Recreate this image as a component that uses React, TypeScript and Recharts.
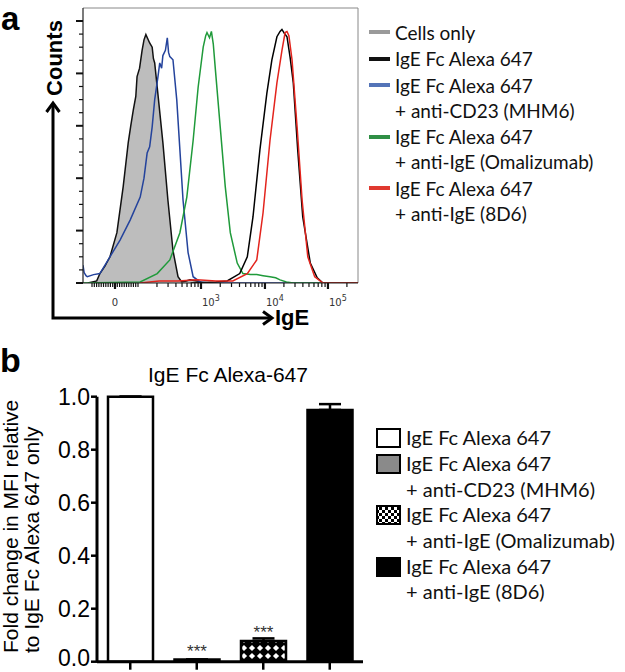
import React from 'react';
import {
  ComposedChart,
  Area,
  Line,
  XAxis,
  YAxis,
  ReferenceLine,
  BarChart,
  Bar,
  Cell,
  ErrorBar,
  LabelList,
} from 'recharts';

const FONT = '"Liberation Sans", Arial, Helvetica, sans-serif';
const LEGEND_FONT = 'Lato, "Open Sans", sans-serif';

// ---- panel a: histograms. x = position on the biexponential IgE axis, y = counts
const cellsOnly = [
  [-0.43, 0], [-0.29, 2], [-0.24, 9], [-0.16, 16], [-0.08, 25], [0.03, 48], [0.13, 92],
  [0.21, 134], [0.25, 150], [0.29, 165], [0.33, 178], [0.35, 197], [0.39, 205], [0.43, 222],
  [0.46, 232], [0.49, 237], [0.52, 233], [0.55, 229], [0.59, 225], [0.61, 214], [0.63, 210],
  [0.68, 181], [0.76, 134], [0.84, 79], [0.92, 31], [1.0, 6], [1.06, 1], [1.13, 2],
  [1.19, 3], [1.3, 2], [1.4, 0],
];
const igeFc = [
  [1.2, 0], [1.6, 1], [1.78, 2], [1.98, 9], [2.1, 25], [2.19, 63], [2.3, 127], [2.41, 181],
  [2.49, 213], [2.57, 235], [2.62, 240], [2.65, 242], [2.69, 238], [2.73, 235], [2.78, 215],
  [2.83, 191], [2.9, 127], [2.98, 63], [3.1, 19], [3.21, 5], [3.3, 0], [3.857, 0],
];
const igeFcMhm6 = [
  [-0.508, 17], [-0.49, 10], [-0.46, 7], [-0.44, 6], [-0.34, 8], [-0.24, 9], [-0.08, 25],
  [0.08, 41], [0.24, 60], [0.4, 82], [0.46, 100], [0.51, 124], [0.55, 130], [0.59, 149],
  [0.63, 175], [0.68, 196], [0.71, 210], [0.74, 205], [0.76, 217], [0.8, 222], [0.83, 234],
  [0.85, 220], [0.87, 216], [0.92, 213], [0.98, 175], [1.03, 127], [1.08, 79], [1.16, 29],
  [1.24, 6], [1.35, 1], [1.5, 0], [3.857, 0],
];
const igeFcOmalizumab = [
  [-0.508, 0], [0.4, 1], [0.67, 9], [0.87, 22], [1.03, 48], [1.14, 82], [1.24, 136],
  [1.32, 187], [1.4, 225], [1.44, 236], [1.46, 239], [1.5, 234], [1.53, 240], [1.56, 228],
  [1.59, 206], [1.67, 149], [1.75, 92], [1.83, 48], [1.94, 19], [2.03, 9], [2.15, 8],
  [2.25, 8], [2.35, 7], [2.46, 6], [2.55, 5], [2.62, 3], [2.72, 1], [2.83, 0], [3.857, 0],
];
const igeFc8d6 = [
  [0.4, 0], [0.7, 2], [1.0, 2], [1.3, 3], [1.6, 2], [1.87, 2], [2.1, 9], [2.25, 22],
  [2.35, 67], [2.46, 136], [2.57, 191], [2.65, 222], [2.7, 239], [2.73, 240], [2.76, 236],
  [2.81, 213], [2.89, 149], [2.97, 79], [3.06, 25], [3.17, 6], [3.3, 0], [3.857, 0],
];

const X_MIN = -0.508;
const X_MAX = 3.857;
const Y_MAX = 262.4;

// decade labels on the IgE axis
const decades = [
  { pos: 0, exp: 0 },
  { pos: 1.365, exp: 3 },
  { pos: 2.38, exp: 4 },
  { pos: 3.38, exp: 5 },
];

const histLegend = [
  { color: '#9a9a9a', lines: ['Cells only'] },
  { color: '#111111', lines: ['IgE Fc Alexa 647'] },
  { color: '#5474b8', lines: ['IgE Fc Alexa 647', '+ anti-CD23 (MHM6)'] },
  { color: '#2f8f45', lines: ['IgE Fc Alexa 647', '+ anti-IgE (Omalizumab)'] },
  { color: '#e0392f', lines: ['IgE Fc Alexa 647', '+ anti-IgE (8D6)'] },
];

// ---- panel b: bars
const barNames = [
  'IgE Fc Alexa 647',
  'IgE Fc Alexa 647 + anti-CD23 (MHM6)',
  'IgE Fc Alexa 647 + anti-IgE (Omalizumab)',
  'IgE Fc Alexa 647 + anti-IgE (8D6)',
];
const barValues = [1.0, 0.008, 0.078, 0.95];
const barErrors = [0, 0, 0.01, 0.022];
const barSig = ['', '***', '***', ''];
const barFills = ['#ffffff', '#8a8a8a', 'url(#diamonds)', '#000000'];
const barLegendLines = [
  ['IgE Fc Alexa 647'],
  ['IgE Fc Alexa 647', '+ anti-CD23 (MHM6)'],
  ['IgE Fc Alexa 647', '+ anti-IgE (Omalizumab)'],
  ['IgE Fc Alexa 647', '+ anti-IgE (8D6)'],
];

const toPts = (a: number[][]) => a.map(([x, y]) => ({ x, y }));

// tick positions for the axis marks
const majorX = decades.map((d) => d.pos);
const minorX: number[] = [];
for (let k = 1; k <= 9; k++) {
  minorX.push(k * 0.0365, -k * 0.0365, 0.365 + Math.log10(k));
  if (k > 1) {
    minorX.push(1.365 + Math.log10(k) * 1.015, 2.38 + Math.log10(k));
  }
}
minorX.push(-0.365, 3.38 + Math.log10(2));
const xTicks = [...majorX, ...minorX.filter((v) => !majorX.some((m) => Math.abs(m - v) < 1e-3))].sort(
  (a, b) => a - b
);
const yTicks = Array.from({ length: 21 }, (_, i) => i * 12.5);

const XTick = (props: any) => {
  const { x, y, payload } = props;
  const v = payload.value as number;
  const dec = decades.find((d) => Math.abs(d.pos - v) < 1e-6);
  return (
    <g>
      <line x1={x} x2={x} y1={y} y2={y + (dec ? 6 : 4)} stroke="#111" strokeWidth={dec ? 2.2 : 1.2} />
      {dec &&
        (dec.exp === 0 ? (
          <text x={x} y={y + 23} textAnchor="middle" fontSize={10} fill="#333" fontFamily="DejaVu Sans">
            0
          </text>
        ) : (
          <text x={x + 1} y={y + 23} textAnchor="start" fontSize={10} fill="#333" fontFamily="DejaVu Sans">
            10
            <tspan dy={-5} fontSize={8}>
              {dec.exp}
            </tspan>
          </text>
        ))}
    </g>
  );
};

const YTick = (props: any) => {
  const { x, y, payload } = props;
  const major = payload.value % 50 === 0;
  return <line x1={x} x2={x - (major ? 7 : 4)} y1={y} y2={y} stroke="#111" strokeWidth={major ? 2 : 1.2} />;
};

// fold-change labels; the bottom one is nudged up so it stays inside the page
const FoldTick = (props: any) => {
  const { x, y, payload } = props;
  const v = payload.value as number;
  return (
    <text x={x} y={y + (v === 0 ? 4.5 : 8)} textAnchor="end" fontSize={23} fill="#000" fontFamily={FONT}>
      {v.toFixed(1)}
    </text>
  );
};

const Swatch = ({ fill }: { fill: string }) => (
  <svg width={26} height={22} style={{ position: 'absolute', left: 0, top: 2 }}>
    <defs>
      <pattern id="checks" width={6} height={6} patternUnits="userSpaceOnUse">
        <rect width={6} height={6} fill="#fff" />
        <rect width={3} height={3} fill="#000" />
        <rect x={3} y={3} width={3} height={3} fill="#000" />
      </pattern>
    </defs>
    <rect x={1} y={2} width={23} height={18} fill={fill} stroke="#000" strokeWidth={2} />
  </svg>
);

export default function App() {
  const barData = barNames.map((name, i) => ({
    name,
    value: barValues[i],
    err: [0, barErrors[i]],
    sig: barSig[i],
  }));
  const legendFills = ['#ffffff', '#8a8a8a', 'url(#checks)', '#000000'];

  return (
    <div style={{ position: 'absolute', left: 0, top: 0, width: 625, height: 672, background: '#fff', fontFamily: FONT }}>
      <div style={{ position: 'absolute', left: 0, top: 0 }}>
        <ComposedChart
          width={625}
          height={340}
          data={toPts(cellsOnly)}
          margin={{ top: 8, right: 267, bottom: 27, left: 73 }}
        >
          <XAxis
            dataKey="x"
            type="number"
            domain={[X_MIN, X_MAX]}
            allowDataOverflow
            ticks={xTicks}
            interval={0}
            tick={<XTick />}
            tickLine={false}
            tickSize={0}
            tickMargin={0}
            height={30}
            axisLine={{ stroke: '#222', strokeWidth: 1.2 }}
          />
          <YAxis
            type="number"
            domain={[0, Y_MAX]}
            allowDataOverflow
            ticks={yTicks}
            interval={0}
            tick={<YTick />}
            tickLine={false}
            tickSize={0}
            tickMargin={0}
            width={10}
            axisLine={{ stroke: '#222', strokeWidth: 1.2 }}
          />
          <ReferenceLine y={Y_MAX} stroke="#888" strokeWidth={1} />
          <ReferenceLine x={X_MAX} stroke="#888" strokeWidth={1} />
          <Area
            dataKey="y"
            type="linear"
            fill="#bdbdbd"
            fillOpacity={1}
            stroke="#111"
            strokeWidth={1.5}
            isAnimationActive={false}
          />
          <Line data={toPts(igeFcMhm6)} dataKey="y" type="linear" stroke="#24439c" strokeWidth={1.5} dot={false} isAnimationActive={false} />
          <Line data={toPts(igeFcOmalizumab)} dataKey="y" type="linear" stroke="#1f9a3a" strokeWidth={1.5} dot={false} isAnimationActive={false} />
          <Line data={toPts(igeFc)} dataKey="y" type="linear" stroke="#000" strokeWidth={1.5} dot={false} isAnimationActive={false} />
          <Line data={toPts(igeFc8d6)} dataKey="y" type="linear" stroke="#e3241d" strokeWidth={1.5} dot={false} isAnimationActive={false} />
        </ComposedChart>
      </div>

      <div style={{ position: 'absolute', left: 0, top: 340 }}>
        <BarChart width={625} height={332} data={barData} margin={{ top: 56.7, right: 262, bottom: 0, left: 40 }}>
          <defs>
            <pattern id="diamonds" width={8} height={8} patternUnits="userSpaceOnUse">
              <rect width={8} height={8} fill="#000" />
              <polygon points="4,0.9 7.1,4 4,7.1 0.9,4" fill="#fff" />
            </pattern>
          </defs>
          <XAxis
            dataKey="name"
            tickFormatter={() => ''}
            tickSize={8}
            height={10.3}
            interval={0}
            axisLine={{ stroke: '#000', strokeWidth: 3 }}
            tickLine={{ stroke: '#000', strokeWidth: 2.5 }}
          />
          <YAxis
            type="number"
            domain={[0, 1]}
            ticks={[0, 0.2, 0.4, 0.6, 0.8, 1]}
            interval={0}
            width={57}
            tickSize={6}
            tickMargin={1}
            axisLine={{ stroke: '#000', strokeWidth: 3 }}
            tickLine={{ stroke: '#000', strokeWidth: 2.5 }}
            tick={<FoldTick />}
          />
          <Bar dataKey="value" barSize={45} stroke="#000" strokeWidth={2.5} isAnimationActive={false}>
            {barData.map((d, i) => (
              <Cell key={d.name} fill={barFills[i]} />
            ))}
            <ErrorBar dataKey="err" width={11} stroke="#000" strokeWidth={2.5} direction="y" />
            <LabelList dataKey="sig" position="top" offset={3} fill="#333" fontSize={17} fontFamily={FONT} />
          </Bar>
        </BarChart>
      </div>

      {/* legend a */}
      <div style={{ position: 'absolute', left: 369, top: 19.5, fontFamily: LEGEND_FONT, fontSize: 19, lineHeight: '25px', color: '#111' }}>
        {histLegend.map((item, i) => (
          <div key={i} style={{ position: 'relative', paddingLeft: 26, marginBottom: 1.5, whiteSpace: 'nowrap' }}>
            <span style={{ position: 'absolute', left: 0, top: 10.5, width: 21, height: 4, background: item.color }} />
            {item.lines.map((l) => (
              <div key={l}>{l}</div>
            ))}
          </div>
        ))}
      </div>

      {/* legend b */}
      <div style={{ position: 'absolute', left: 376, top: 425.2, fontFamily: LEGEND_FONT, fontSize: 20, lineHeight: '25.7px', color: '#111' }}>
        {barLegendLines.map((lines, i) => (
          <div key={i} style={{ position: 'relative', paddingLeft: 30, whiteSpace: 'nowrap' }}>
            <Swatch fill={legendFills[i]} />
            {lines.map((l) => (
              <div key={l}>{l}</div>
            ))}
          </div>
        ))}
      </div>

      <svg width={625} height={672} style={{ position: 'absolute', left: 0, top: 0, pointerEvents: 'none' }}>
        <text x={1} y={30} fontSize={33} fontWeight="bold" fontFamily={FONT}>a</text>
        <text x={0} y={372} fontSize={34} fontWeight="bold" fontFamily={FONT}>b</text>
        <path d="M53,104 V318 H271" fill="none" stroke="#000" strokeWidth={3} />
        <path d="M46.5,112 L53,103 L59.5,112" fill="none" stroke="#000" strokeWidth={3} />
        <path d="M263,311.5 L272,318 L263,324.5" fill="none" stroke="#000" strokeWidth={3} />
        <text x={62} y={58} transform="rotate(-90 62 58)" textAnchor="middle" fontSize={22} fontWeight="bold" fontFamily={FONT}>
          Counts
        </text>
        <text x={275} y={325} fontSize={22} fontWeight="bold" fontFamily={FONT}>IgE</text>
        <text x={228} y={382} textAnchor="middle" fontSize={21} fontFamily={FONT}>IgE Fc Alexa-647</text>
        <text x={18} y={653} transform="rotate(-90 18 653)" fontSize={21} fontFamily={FONT}>
          Fold change in MFI relative
        </text>
        <text x={39} y={653} transform="rotate(-90 39 653)" fontSize={21} fontFamily={FONT}>
          to IgE Fc Alexa 647 only
        </text>
      </svg>
    </div>
  );
}
